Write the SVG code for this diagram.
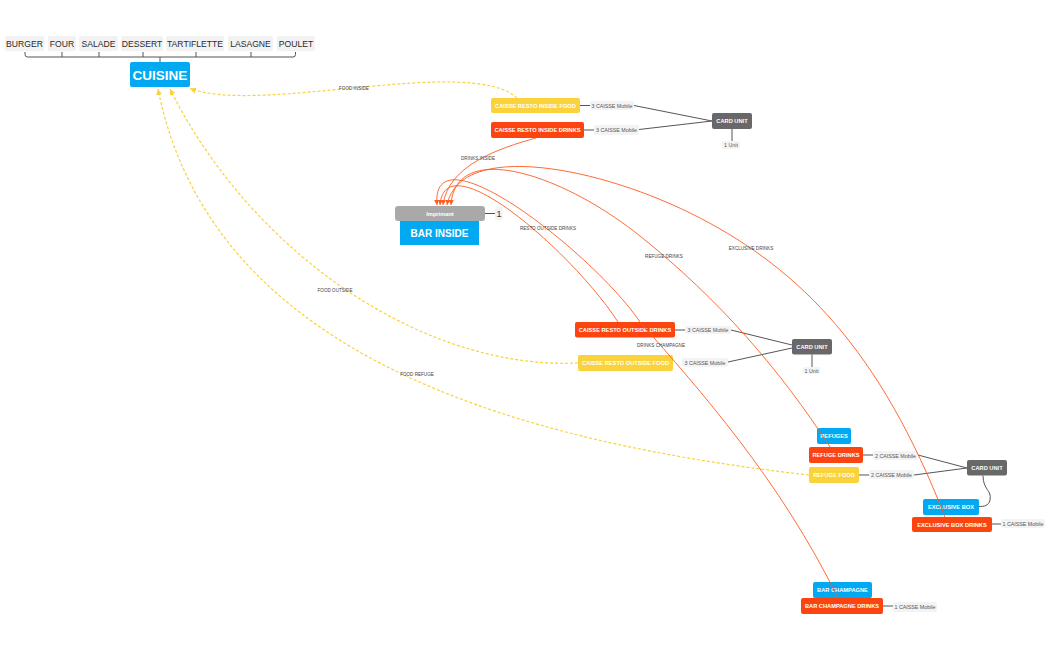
<svg xmlns="http://www.w3.org/2000/svg" width="1050" height="650" viewBox="0 0 1050 650">
<defs>
<marker id="arR" markerUnits="userSpaceOnUse" markerWidth="6" markerHeight="6" refX="5" refY="3" orient="auto"><path d="M0,0.5 L5,3 L0,5.5 Z" fill="#ff5a1f"/></marker>
<marker id="arY" markerUnits="userSpaceOnUse" markerWidth="7" markerHeight="7" refX="6" refY="3.5" orient="auto"><path d="M0,0.5 L6,3.5 L0,6.5 Z" fill="#f9d23c"/></marker>
</defs>
<style>
text{font-family:"Liberation Sans",Arial,sans-serif}
.menu rect{fill:#f2f2f2}
.menu text{font-size:8.6px;fill:#2a2a2a;text-anchor:middle}
.blue{fill:#00a9f1}
.yel{fill:#f9d23c}
.red{fill:#fc4410}
.card{fill:#686868}
.bt{fill:#fff;font-weight:bold;text-anchor:middle;font-size:5.7px}
.lbl rect{fill:#f3f3f3}
.lbl text{font-size:5.3px;fill:#555;text-anchor:middle}
.lbl text.one{font-size:9px;fill:#333}
.ln{stroke:#555;stroke-width:1;fill:none}
.rl{stroke:#ff5a1f;stroke-width:0.9;fill:none;marker-end:url(#arR)}
.yl{stroke:#f9d23c;stroke-width:1.2;fill:none;stroke-dasharray:3 2;marker-end:url(#arY)}
.cl{font-size:4.6px;fill:#444;text-anchor:middle}
</style>
<rect width="1050" height="650" fill="#fff"/>

<g id="menu" class="menu">
<rect x="5" y="36" width="39" height="15" rx="2"/><text x="24.5" y="46.5">BURGER</text>
<rect x="48" y="36" width="28" height="15" rx="2"/><text x="62" y="46.5">FOUR</text>
<rect x="79" y="36" width="39" height="15" rx="2"/><text x="98.5" y="46.5">SALADE</text>
<rect x="121" y="36" width="42" height="15" rx="2"/><text x="142" y="46.5">DESSERT</text>
<rect x="166" y="36" width="58" height="15" rx="2"/><text x="195" y="46.5">TARTIFLETTE</text>
<rect x="228" y="36" width="45" height="15" rx="2"/><text x="250.5" y="46.5">LASAGNE</text>
<rect x="277" y="36" width="38" height="15" rx="2"/><text x="296" y="46.5">POULET</text>
<path class="ln" d="M25,52 V54.5 Q25,57 27.5,57 H293 Q295.5,57 295.5,54.5 V52 M62,52 V57 M99,52 V57 M143,52 V57 M196,52 V57 M251,52 V57 M160,57 V62"/>
</g>

<g id="cuisine">
<rect class="blue" x="130" y="62" width="60" height="25" rx="2"/>
<text x="160" y="79.5" fill="#fff" font-weight="bold" font-size="13.5" text-anchor="middle">CUISINE</text>
</g>

<g id="caisse-inside-food">
<rect class="yel" x="491" y="98" width="89" height="15" rx="2"/>
<text class="bt" x="535.5" y="107.6">CAISSE RESTO INSIDE FOOD</text>
</g>
<g id="caisse-inside-drinks">
<rect class="red" x="491" y="122" width="93" height="16" rx="2"/>
<text class="bt" x="537.5" y="132">CAISSE RESTO INSIDE DRINKS</text>
</g>
<g id="card-unit-1">
<rect class="card" x="712" y="113" width="40" height="16" rx="2"/>
<text class="bt" x="732" y="123.2">CARD UNIT</text>
</g>

<g id="imprimant">
<rect x="395" y="206" width="90" height="15" rx="3" fill="#a9a9a9"/>
<text class="bt" x="440" y="215.7">Imprimant</text>
</g>
<g id="bar-inside">
<rect class="blue" x="400" y="221" width="79" height="24"/>
<text x="439.5" y="236.6" fill="#fff" font-weight="bold" font-size="10" text-anchor="middle">BAR INSIDE</text>
</g>

<g id="caisse-outside-drinks">
<rect class="red" x="575" y="322" width="100" height="15.5" rx="2"/>
<text class="bt" x="625" y="331.8">CAISSE RESTO OUTSIDE DRINKS</text>
</g>
<g id="caisse-outside-food">
<rect class="yel" x="578" y="355" width="95" height="16" rx="2"/>
<text class="bt" x="625.5" y="365">CAISSE RESTO OUTSIDE FOOD</text>
</g>
<g id="card-unit-2">
<rect class="card" x="792" y="339" width="40" height="15.5" rx="2"/>
<text class="bt" x="812" y="348.8">CARD UNIT</text>
</g>

<g id="refuges">
<rect class="blue" x="817" y="428" width="34" height="16" rx="2"/>
<text class="bt" x="834" y="438">REFUGES</text>
</g>
<g id="refuge-drinks">
<rect class="red" x="809" y="447" width="54" height="16" rx="2"/>
<text class="bt" x="836" y="457">REFUGE DRINKS</text>
</g>
<g id="refuge-food">
<rect class="yel" x="809" y="467" width="50" height="16" rx="2"/>
<text class="bt" x="834" y="477">REFUGE FOOD</text>
</g>
<g id="card-unit-3">
<rect class="card" x="967" y="460" width="40" height="15.5" rx="2"/>
<text class="bt" x="987" y="469.8">CARD UNIT</text>
</g>
<g id="exclusive-box">
<rect class="blue" x="923" y="499" width="56" height="16" rx="2"/>
<text class="bt" x="951" y="509">EXCLUSIVE BOX</text>
</g>
<g id="exclusive-box-drinks">
<rect class="red" x="912" y="517" width="80" height="15" rx="2"/>
<text class="bt" x="952" y="526.6">EXCLUSIVE BOX DRINKS</text>
</g>

<g id="bar-champagne">
<rect class="blue" x="813" y="582" width="59" height="16" rx="2"/>
<text class="bt" x="842.5" y="592">BAR CHAMPAGNE</text>
</g>
<g id="bar-champagne-drinks">
<rect class="red" x="801" y="598" width="82" height="16" rx="2"/>
<text class="bt" x="842" y="608">BAR CHAMPAGNE DRINKS</text>
</g>

<g id="labels" class="lbl">
<rect x="590" y="101" width="44" height="9" rx="2"/><text x="612" y="107.6">3 CAISSE Mobile</text>
<rect x="594" y="125" width="45" height="10" rx="2"/><text x="616.5" y="132">3 CAISSE Mobile</text>
<rect x="722" y="141" width="18" height="8" rx="2"/><text x="731" y="147">1 Unit</text>
<rect x="495" y="207" width="8" height="13" rx="2"/><text class="one" x="499" y="216.8">1</text>
<rect x="685" y="326" width="46" height="8" rx="2"/><text x="708" y="332">3 CAISSE Mobile</text>
<rect x="682" y="358" width="46" height="9" rx="2"/><text x="705" y="364.5">3 CAISSE Mobile</text>
<rect x="803" y="367" width="17" height="7" rx="2"/><text x="811.5" y="372.5">1 Unit</text>
<rect x="873" y="451" width="45" height="9" rx="2"/><text x="895.5" y="457.5">2 CAISSE Mobile</text>
<rect x="869" y="470" width="45" height="9" rx="2"/><text x="891.5" y="476.5">2 CAISSE Mobile</text>
<rect x="1001" y="519" width="44" height="9" rx="2"/><text x="1023" y="525.5">1 CAISSE Mobile</text>
<rect x="893" y="602" width="44" height="10" rx="2"/><text x="915" y="609">1 CAISSE Mobile</text>
</g>

<g id="connectors">
<path class="ln" d="M580,105.5 H590 M584,130 H594 M634,105.5 L712,121 M639,129.5 L712,121 M732,129 V141 M485,213.5 H495"/>
<path class="ln" d="M675,330 H685 M731,330 L792,345 M728,362 L792,348 M812,354.5 V367"/>
<path class="ln" d="M863,455 H873 M859,475 H869 M918,455 L967,468 M914,475 L967,468 M983,475.5 C983,490 992,490 990,500 C988.5,506 984,506.5 979,506.5 M992,524 H1001 M883,606 H893"/>

<path class="yl" d="M517,98 C470,55 260,115 190,88.5"/>
<path class="yl" d="M578,363 C420,370 250,250 170,89"/>
<path class="yl" d="M809,475 C500,440 210,350 158,89"/>

<path class="rl" d="M536,138 C500,148 448,165 443,205"/>
<path class="rl" d="M618,322 C575,255 445,140 440,205"/>
<path class="rl" d="M838,598 C780,480 700,390 640,322 C595,255 430,125 437,205"/>
<path class="rl" d="M830,447 C780,370 720,300 640,236 C560,172 455,140 451,205"/>
<path class="rl" d="M945,517 C880,350 800,270 700,218 C600,166 460,140 447,205"/>

<text class="cl" x="354" y="90">FOOD INSIDE</text>
<text class="cl" x="478" y="159.5">DRINKS INSIDE</text>
<text class="cl" x="548" y="229.5">RESTO OUTSIDE DRINKS</text>
<text class="cl" x="664" y="257.5">REFUGE DRINKS</text>
<text class="cl" x="751" y="249.5">EXCLUSIVE DRINKS</text>
<text class="cl" x="335" y="291.5">FOOD OUTSIDE</text>
<text class="cl" x="417" y="375.5">FOOD REFUGE</text>
<text class="cl" x="661" y="346.5">DRINKS CHAMPAGNE</text>
</g>
</svg>
